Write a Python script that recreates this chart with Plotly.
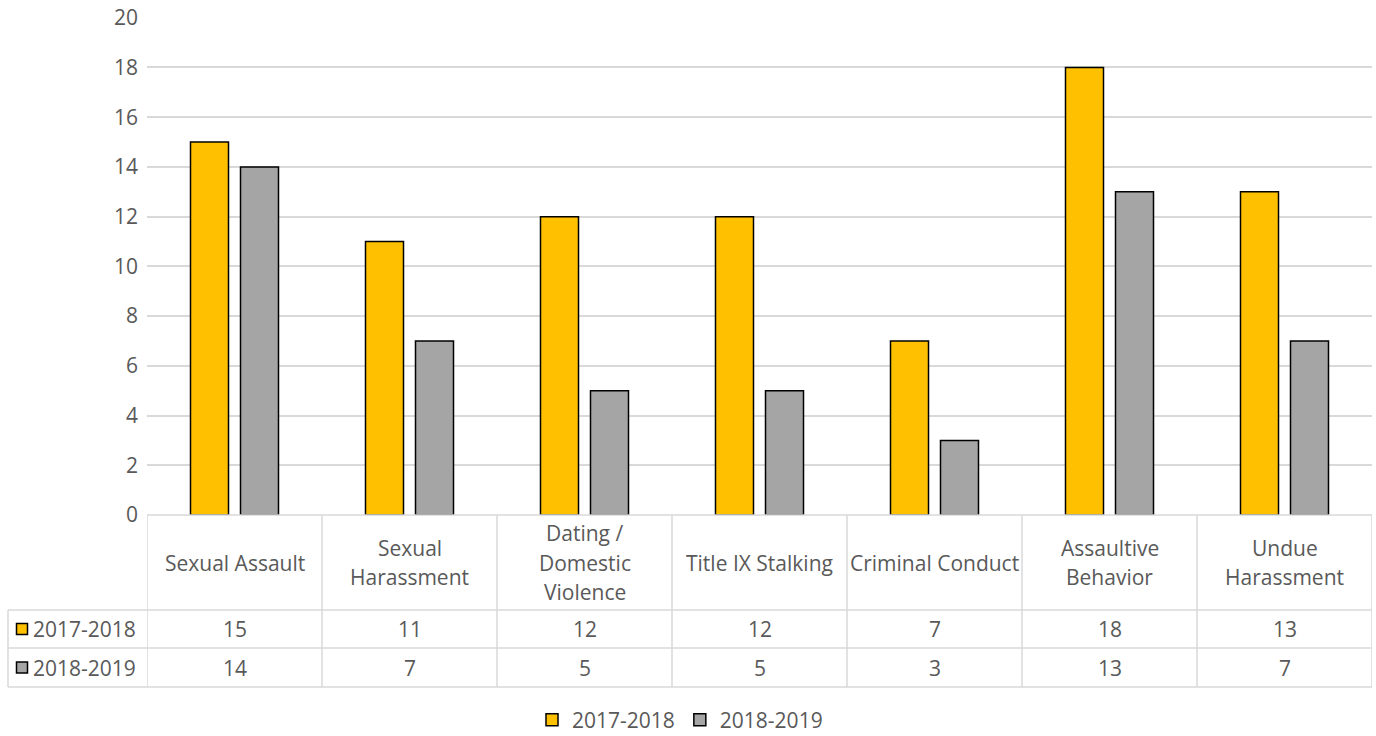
import plotly.graph_objects as go

# chart values
categories = ["Sexual Assault", "Sexual Harassment", "Dating / Domestic Violence",
              "Title IX Stalking", "Criminal Conduct", "Assaultive Behavior",
              "Undue Harassment"]
table_labels = ["Sexual Assault", "Sexual<br>Harassment", "Dating /<br>Domestic<br>Violence",
                "Title IX Stalking", "Criminal Conduct", "Assaultive<br>Behavior",
                "Undue<br>Harassment"]
series_names = ["2017-2018", "2018-2019"]
values_2017 = [15, 11, 12, 12, 7, 18, 13]
values_2018 = [14, 7, 5, 5, 3, 13, 7]
y_ticks = [0, 2, 4, 6, 8, 10, 12, 14, 16, 18, 20]

COLORS = ["#FFC000", "#A5A5A5"]
TEXT = "#595959"
GRID = "#D9D9D9"
FONT = "Open Sans"
FS = 21
LINE_GAP = 29.5  # px between wrapped label lines

# body margin is removed in the page, so figure pixels == page pixels
W, H = 1376, 736
L, T = 147, 17
PW, PH = 1225, 498
R, B = W - L - PW, H - T - PH


def px_x(px):
    # page pixel -> paper x
    return (px - L) / PW


def px_y(px):
    # page pixel -> paper y
    return (T + PH - px) / PH


fig = go.Figure()
for name, vals, col in zip(series_names, [values_2017, values_2018], COLORS):
    fig.add_trace(go.Bar(
        name=name, x=categories, y=vals,
        marker=dict(color=col, line=dict(color="black", width=1.5)),
        hoverinfo="x+y+name",
    ))

# data table below the plot
row_top = [px_y(515), px_y(610), px_y(648), px_y(687)]
grid_line = dict(color=GRID, width=1.5)
shapes = []
n = len(categories)
for i in range(n + 1):
    shapes.append(dict(type="line", xref="x", yref="paper", x0=i - 0.5, x1=i - 0.5,
                       y0=row_top[0], y1=row_top[3], line=grid_line))
shapes.append(dict(type="line", xref="paper", yref="paper", x0=px_x(8), x1=px_x(8),
                   y0=row_top[1], y1=row_top[3], line=grid_line))
for k in (1, 2, 3):
    shapes.append(dict(type="line", xref="paper", yref="paper", x0=px_x(8), x1=1,
                       y0=row_top[k], y1=row_top[k], line=grid_line))
shapes.append(dict(type="line", xref="x", yref="paper", x0=-0.5, x1=n - 0.5,
                   y0=0, y1=0, line=grid_line))

font = dict(family=FONT, size=FS, color=TEXT)
annotations = []
for i, lab in enumerate(table_labels):
    lines = lab.split("<br>")
    for j, line in enumerate(lines):
        annotations.append(dict(x=categories[i], xref="x", yref="paper",
                                y=(row_top[0] + row_top[1]) / 2,
                                yshift=((len(lines) - 1) / 2 - j) * LINE_GAP,
                                text=line, showarrow=False,
                                xanchor="center", yanchor="middle", font=font))
for r, (name, vals, col) in enumerate(zip(series_names, [values_2017, values_2018], COLORS)):
    yc = (row_top[r + 1] + row_top[r + 2]) / 2
    for i, v in enumerate(vals):
        annotations.append(dict(x=categories[i], xref="x", yref="paper", y=yc,
                                text=str(v), showarrow=False,
                                xanchor="center", yanchor="middle", font=font))
    annotations.append(dict(x=px_x(31), xref="paper", yref="paper", y=yc, xanchor="left",
                            yanchor="middle", text=name, showarrow=False, font=font))
    shapes.append(dict(type="rect", xref="paper", yref="paper", xsizemode="pixel",
                       ysizemode="pixel", xanchor=px_x(22), yanchor=yc,
                       x0=-5.5, x1=5.5, y0=-5.5, y1=5.5, fillcolor=col,
                       line=dict(color="black", width=1.5)))

fig.update_layout(
    width=W, height=H,
    margin=dict(l=L, r=R, t=T, b=B, autoexpand=False),
    paper_bgcolor="white", plot_bgcolor="white",
    barmode="group", bargap=0.4286, bargroupgap=0.24,
    font=font,
    xaxis=dict(showticklabels=False, showgrid=False, zeroline=False,
               range=[-0.5, n - 0.5], fixedrange=True, automargin=False),
    yaxis=dict(range=[0, 20.03], tickvals=y_ticks, showgrid=True, gridcolor=GRID,
               gridwidth=1.5, zeroline=False, showline=False, ticks="",
               ticklabelstandoff=8, ticklabeloverflow="allow", tickfont=font,
               fixedrange=True, automargin=False),
    legend=dict(orientation="h", x=px_x(680), xanchor="center", y=px_y(720),
                yanchor="middle", itemwidth=30, font=font),
    shapes=shapes, annotations=annotations,
)

fig.write_html("out.html", config={"displayModeBar": False},
               post_script="document.body.style.margin = '0';")
